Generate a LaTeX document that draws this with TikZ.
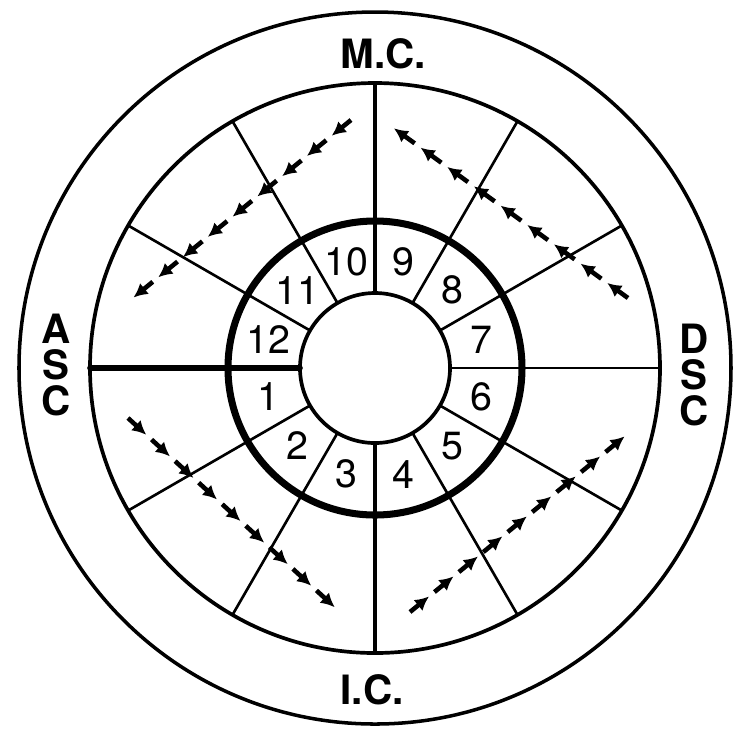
\documentclass[tikz,border=0pt]{standalone}
\usepackage{fontspec}
\setmainfont{TeX Gyre Heros}
\usepackage{tikz}
\usetikzlibrary{calc, arrows.meta}
\usepackage{tkz-euclide}

\tikzset{
  num/.style={font=\fontsize{11.2}{12}\selectfont, inner sep=0pt},
  corner/.style={font=\fontsize{11.5}{10.2}\selectfont\bfseries, inner sep=0pt, align=center},
  flow/.style={line width=1.3pt, -{Latex[length=4pt,width=4pt]}}
}

\begin{document}
\begin{tikzpicture}
      \useasboundingbox (-3.75,-3.61) rectangle (3.61,3.68);
      % 1. 圓心與外圈、宮位圈、內圈
      \tkzDefPoint(0,0){O}
      \tkzDefPoint(0:3.56){R_out}
      \tkzDefPoint(0:2.85){R_house}
      \tkzDefPoint(0:1.47){R_ring}
      \tkzDefPoint(0:0.75){R_in}
      \tkzDrawCircle[black, line width=1pt](O,R_out)
      \tkzDrawCircle[black, line width=1.05pt](O,R_house)
      \tkzDrawCircle[black, line width=1.05pt](O,R_in)

      % 2. 十二宮分界線
      \foreach \a in {0,30,...,330}{
        \tkzDefPoint(\a:0.75){C_in\a}
        \tkzDefPoint(\a:2.85){C_out\a}
      }
      \foreach \a in {0,30,60,120,150,210,240,300,330}{
        \tkzDrawSegment[black, line width=0.75pt](C_in\a,C_out\a)
      }
      \tkzDrawSegments[black, line width=1pt](C_in90,C_out90 C_in270,C_out270)
      % 上升點那一條加粗
      \tkzDrawSegments[black, line width=1.6pt](C_in180,C_out180)

      % 3. 粗圓
      \tkzDrawCircle[black, line width=2pt](O,R_ring)

      % 4. 宮位編號
      \foreach \k in {1,...,12}{
        \node[num] (h\k) at ({165+30*\k}:1.10) {\k};
      }

      % 5. 四個角點
      \node[corner] (mc) at (0.08,3.14) {M.C.};
      \node[corner] (ic) at (-0.03,-3.22) {I.C.};
      \node[corner] (asc) at (-3.19,0.03) {A\\S\\C};
      \node[corner] (dsc) at (3.19,-0.07) {D\\S\\C};

      % 6. 虛線箭頭（逆時針）
      \tkzDefPoint(-0.24,2.48){P_1}
      \tkzDefPoint(-2.47,0.66){Q_1}
      \tkzDefPoint(-2.47,-0.50){P_2}
      \tkzDefPoint(-0.35,-2.44){Q_2}
      \tkzDefPoint(0.35,-2.44){P_3}
      \tkzDefPoint(2.55,-0.64){Q_3}
      \tkzDefPoint(2.53,0.70){P_4}
      \tkzDefPoint(0.13,2.44){Q_4}
      \foreach \s/\e in {P_1/Q_1, P_2/Q_2, P_3/Q_3, P_4/Q_4}{
        \foreach \i in {0,...,8}{
          \draw[flow] ($(\s)!{\i/9}!(\e)$) -- ($(\s)!{(\i+0.78)/9}!(\e)$);
        }
      }
    \end{tikzpicture}
\end{document}
